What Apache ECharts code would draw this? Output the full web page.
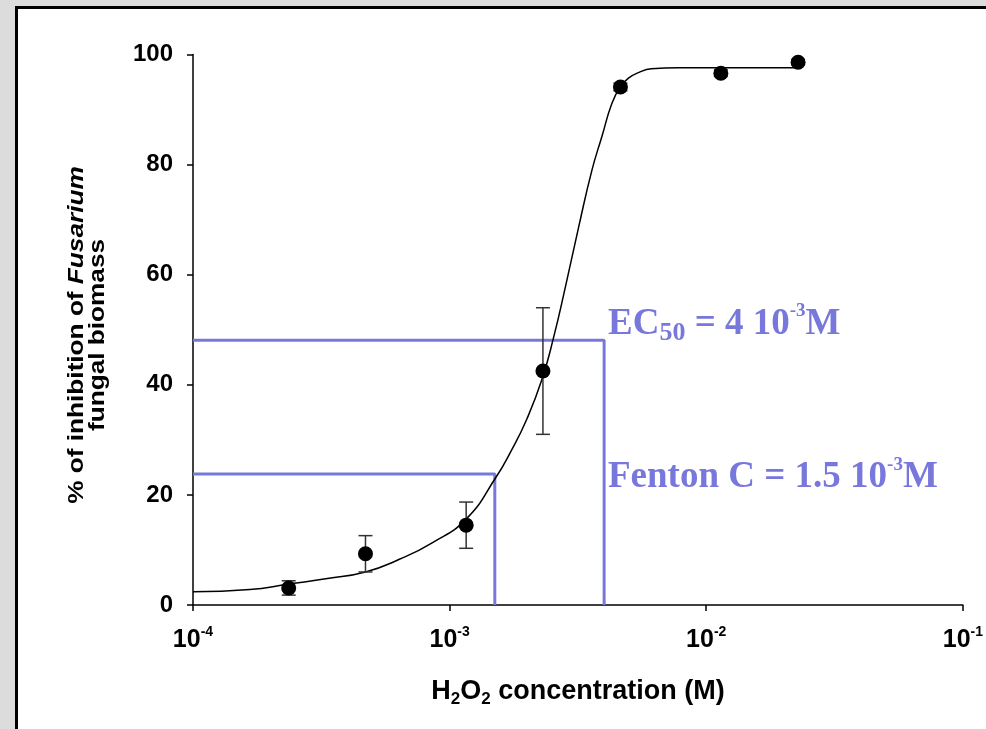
<!DOCTYPE html>
<html>
<head>
<meta charset="utf-8">
<script src="https://cdn.jsdelivr.net/npm/echarts@6/dist/echarts.min.js"></script>
<style>
  html, body { margin: 0; padding: 0; background: #dcdcdc; }
  #chart { width: 986px; height: 729px; }
</style>
</head>
<body>
<div id="chart"></div>
<script>
// H2O2 concentrations (M) of the measured points
const concentrations = [2.36e-4, 4.70e-4, 1.16e-3, 2.31e-3, 4.63e-3, 1.14e-2, 2.28e-2];
// mean % inhibition of Fusarium biomass and its error (±)
const inhibition = [3.1, 9.3, 14.5, 42.5, 94.1, 96.6, 98.6];
const inhibitionErr = [1.3, 3.3, 4.2, 11.5, 0.7, 0.6, 0.5];

// fitted dose-response curve
const fitConc = [1.00e-4, 1.665e-4, 2.36e-4, 3.34e-4, 4.70e-4, 6.37e-4, 8.55e-4, 1.159e-3,
                 1.516e-3, 1.733e-3, 2.00e-3, 2.287e-3, 2.545e-3, 2.826e-3, 3.184e-3, 3.586e-3,
                 3.921e-3, 4.287e-3, 4.623e-3, 4.976e-3, 5.443e-3, 6.114e-3, 7.785e-3, 2.277e-2];
const fitInhibition = [2.4, 2.8, 3.8, 4.8, 6.0, 8.3, 11.3, 15.6,
                       23.2, 27.9, 33.8, 40.9, 48.7, 57.8, 68.7, 79.0,
                       85.1, 91.1, 94.1, 95.7, 96.7, 97.4, 97.6, 97.6];

// reference concentrations marked with guide lines
const fentonConc = 1.5e-3;
const fentonLevel = 23.8;
const ec50Conc = 4e-3;
const ec50Level = 48.1;

// axis ticks
const xTickExponents = [-4, -3, -2, -1];
const yTickStep = 20;
const yMax = 100;

const guideColor = '#7878dc';
const sansFont = '"Liberation Sans", Arial, sans-serif';
const serifFont = '"Liberation Serif", "Times New Roman", serif';

const errorData = concentrations.map((c, i) => [c, inhibition[i] - inhibitionErr[i], inhibition[i] + inhibitionErr[i]]);
const pointData = concentrations.map((c, i) => [c, inhibition[i]]);
const fitData = fitConc.map((c, i) => [c, fitInhibition[i]]);
const fentonGuide = [[10 ** xTickExponents[0], fentonLevel], [fentonConc, fentonLevel], [fentonConc, 0]];
const ec50Guide = [[10 ** xTickExponents[0], ec50Level], [ec50Conc, ec50Level], [ec50Conc, 0]];

const chart = echarts.init(document.getElementById('chart'), null, { renderer: 'canvas' });

chart.setOption({
  backgroundColor: '#dcdcdc',
  animation: false,
  grid: { left: 193, top: 54.5, right: 23, bottom: 124, containLabel: false },
  xAxis: {
    type: 'log',
    logBase: 10,
    min: 10 ** xTickExponents[0],
    max: 10 ** xTickExponents[xTickExponents.length - 1],
    name: 'H{sub|2}O{sub|2} concentration (M)',
    nameLocation: 'middle',
    nameGap: 70,
    nameTextStyle: {
      color: '#000', fontFamily: sansFont, fontWeight: 'bold', fontSize: 27, lineHeight: 33,
      rich: {
        sub: { fontFamily: sansFont, fontWeight: 'bold', fontSize: 17, lineHeight: 18, verticalAlign: 'bottom', color: '#000' }
      }
    },
    axisLine: { show: true, onZero: false, lineStyle: { color: '#000', width: 1.5 } },
    axisTick: { show: true, inside: false, length: 6, lineStyle: { color: '#000', width: 1.5 } },
    splitLine: { show: false },
    minorTick: { show: false },
    axisLabel: {
      margin: 20,
      color: '#000',
      fontFamily: sansFont,
      fontWeight: 'bold',
      fontSize: 25,
      lineHeight: 31,
      formatter: function (v) {
        const e = Math.round(Math.log10(v));
        return xTickExponents.indexOf(e) >= 0 ? '10{sup|' + e + '}' : '';
      },
      rich: {
        sup: { fontFamily: sansFont, fontWeight: 'bold', fontSize: 14, lineHeight: 22, verticalAlign: 'top', color: '#000' }
      }
    }
  },
  yAxis: {
    type: 'value',
    min: 0,
    max: yMax,
    interval: yTickStep,
    axisLine: { show: true, onZero: false, lineStyle: { color: '#000', width: 1.5 } },
    axisTick: { show: true, inside: false, length: 6, lineStyle: { color: '#000', width: 1.5 } },
    splitLine: { show: false },
    axisLabel: {
      margin: 20,
      color: '#000',
      fontFamily: sansFont,
      fontWeight: 'bold',
      fontSize: 24
    }
  },
  graphic: [
    {
      type: 'rect', z: -10, silent: true,
      shape: { x: 16.5, y: 7.5, width: 1000, height: 800 },
      style: { fill: '#ffffff', stroke: '#000000', lineWidth: 3 }
    },
    {
      // y axis title, two lines reading bottom to top
      type: 'text', x: 87, y: 335, rotation: Math.PI / 2, scaleX: 1.19, scaleY: 1, z: 10, silent: true,
      style: {
        text: '{a|% of inhibition of }{i|Fusarium}\n{a|fungal biomass}',
        align: 'center', verticalAlign: 'middle',
        fill: '#000', fontFamily: sansFont, fontWeight: 'bold', fontSize: 22, lineHeight: 21,
        rich: {
          a: { fill: '#000', fontFamily: sansFont, fontWeight: 'bold', fontSize: 22, lineHeight: 21 },
          i: { fill: '#000', fontFamily: sansFont, fontWeight: 'bold', fontStyle: 'italic', fontSize: 22, lineHeight: 21 }
        }
      }
    },
    {
      type: 'text', x: 608, y: 324, z: 10, silent: true,
      style: {
        text: '{m|EC}{sub|50}{m| = 4 10}{sup|-3}{m|M}',
        align: 'left', verticalAlign: 'middle',
        fill: guideColor, fontFamily: serifFont, fontWeight: 'bold', fontSize: 37, lineHeight: 44,
        rich: {
          m: { fill: guideColor, fontFamily: serifFont, fontWeight: 'bold', fontSize: 37, lineHeight: 44 },
          sub: { fill: guideColor, fontFamily: serifFont, fontWeight: 'bold', fontSize: 26, lineHeight: 22, verticalAlign: 'bottom' },
          sup: { fill: guideColor, fontFamily: serifFont, fontWeight: 'bold', fontSize: 19, lineHeight: 34, verticalAlign: 'top' }
        }
      }
    },
    {
      type: 'text', x: 608, y: 477.5, z: 10, silent: true,
      style: {
        text: '{m|Fenton C = 1.5 10}{sup|-3}{m|M}',
        align: 'left', verticalAlign: 'middle',
        fill: guideColor, fontFamily: serifFont, fontWeight: 'bold', fontSize: 37, lineHeight: 44,
        rich: {
          m: { fill: guideColor, fontFamily: serifFont, fontWeight: 'bold', fontSize: 37, lineHeight: 44 },
          sup: { fill: guideColor, fontFamily: serifFont, fontWeight: 'bold', fontSize: 19, lineHeight: 34, verticalAlign: 'top' }
        }
      }
    }
  ],
  series: [
    {
      name: 'Fenton C',
      type: 'line',
      data: fentonGuide,
      symbol: 'none',
      z: 1,
      silent: true,
      lineStyle: { color: guideColor, width: 3 }
    },
    {
      name: 'EC50',
      type: 'line',
      data: ec50Guide,
      symbol: 'none',
      z: 1,
      silent: true,
      lineStyle: { color: guideColor, width: 3 }
    },
    {
      name: 'fit',
      type: 'line',
      data: fitData,
      symbol: 'none',
      smooth: 0.5,
      z: 3,
      lineStyle: { color: '#000', width: 1.5 }
    },
    {
      name: 'error',
      type: 'custom',
      z: 4,
      data: errorData,
      encode: { x: 0, y: [1, 2] },
      renderItem: function (params, api) {
        const x = api.value(0);
        const lo = api.coord([x, api.value(1)]);
        const hi = api.coord([x, api.value(2)]);
        const hw = 7;
        const style = { stroke: '#333', lineWidth: 1.5 };
        return {
          type: 'group',
          children: [
            { type: 'line', shape: { x1: lo[0], y1: lo[1], x2: hi[0], y2: hi[1] }, style: style },
            { type: 'line', shape: { x1: lo[0] - hw, y1: lo[1], x2: lo[0] + hw, y2: lo[1] }, style: style },
            { type: 'line', shape: { x1: hi[0] - hw, y1: hi[1], x2: hi[0] + hw, y2: hi[1] }, style: style }
          ]
        };
      }
    },
    {
      name: 'inhibition',
      type: 'scatter',
      data: pointData,
      symbol: 'circle',
      symbolSize: 15,
      z: 5,
      itemStyle: { color: '#000', opacity: 1 }
    }
  ]
});
</script>
</body>
</html>
